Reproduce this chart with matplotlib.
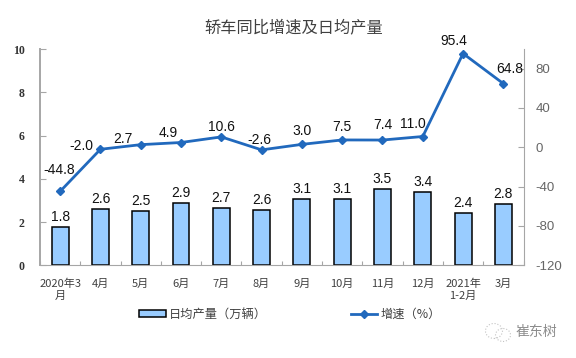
import numpy as np
import matplotlib
matplotlib.use('Agg')
import matplotlib.pyplot as plt
from matplotlib.patches import Ellipse

plt.rcParams['font.family'] = ['Noto Sans CJK SC', 'DejaVu Sans']

months = ['2020年3\n月', '4月', '5月', '6月', '7月', '8月', '9月', '10月', '11月', '12月',
          '2021年\n1-2月', '3月']
daily_output = [1.76, 2.59, 2.52, 2.86, 2.66, 2.56, 3.06, 3.08, 3.53, 3.41, 2.42, 2.82]
growth = [-44.8, -2.0, 2.7, 4.9, 10.6, -2.6, 3.0, 7.5, 7.4, 11.0, 95.4, 64.8]
left_ticks = [0, 2, 4, 6, 8, 10]
right_ticks = [-120, -80, -40, 0, 40, 80]

# label offsets in pixels, the source nudged these by hand
growth_offsets = [(-1, 21), (-19, 3), (-18, 6), (-13, 10), (0, 10), (-2, 10),
                  (0, 13), (0, 13), (0, 15), (-10, 13), (-9, 13), (6, 15)]

W, H = 576, 358
GREY = '#a6a6a6'
x = np.arange(len(months))

fig = plt.figure(figsize=(W / 100, H / 100), dpi=100)
ax = fig.add_axes([40 / W, 92.7 / H, 483.5 / W, 216.3 / H])
ax2 = ax.twinx()

bars = ax.bar(x, daily_output, width=0.42, color='#99ccff', edgecolor='black', linewidth=1.1,
              label='日均产量（万辆）')
line, = ax2.plot(x, growth, color='#2169bd', linewidth=2, marker='D', markersize=4,
                 label='增速（%）')

ax.set_xlim(-0.5, len(months) - 0.5)
ax.set_ylim(0, 10)
ax2.set_ylim(-120, 100)

for xi, v in zip(x, daily_output):
    ax.annotate(f'{v:.1f}', (xi, v), xytext=(0, 3), textcoords='offset pixels', ha='center',
                va='bottom', fontsize=10, family='Liberation Sans', color='#111111')
for xi, v, off in zip(x, growth, growth_offsets):
    ax2.annotate(f'{v:.1f}', (xi, v), xytext=off, textcoords='offset pixels', ha='center',
                 va='center', fontsize=10, family='Liberation Sans', color='#111111')

ax.set_xticks(x)
ax.set_xticklabels(months, fontsize=8, color='#404040', linespacing=1.3)
ax.set_xticks(np.arange(-0.5, len(months)), minor=True)
ax.tick_params(axis='x', which='major', length=0, pad=9.5)
ax.tick_params(axis='x', which='minor', direction='in', length=3, color=GREY, width=0.8)

ax.set_yticks(left_ticks)
ax.set_yticklabels(left_ticks, fontsize=8.5, family='Liberation Serif', fontweight='bold',
                   color='#333333')
ax.tick_params(axis='y', direction='in', length=4, color=GREY, width=0.8, pad=11)

ax2.set_yticks(right_ticks)
ax2.set_yticklabels(right_ticks, fontsize=9.5, family='Liberation Sans', color='#666666')
ax2.tick_params(axis='y', direction='in', length=4, color=GREY, width=0.8, pad=8.5)

for a in (ax, ax2):
    a.spines['top'].set_visible(False)
    a.spines['bottom'].set_color(GREY)
    a.spines['left'].set_color(GREY)
    a.spines['right'].set_color(GREY)
ax2.spines['left'].set_visible(False)
ax2.spines['bottom'].set_visible(False)
ax.spines['right'].set_visible(False)
ax.spines['left'].set_linewidth(1.4)

fig.text(293.5 / W, 1 - 27.5 / H, '轿车同比增速及日均产量', ha='center', va='center', fontsize=11.7,
         color='#404040')

fig.legend(handles=[bars, line], loc='center', bbox_to_anchor=(290 / W, 1 - 314 / H), ncol=2,
           frameon=False, fontsize=8.8, handlelength=2.15, handleheight=0.5, handletextpad=0.25,
           columnspacing=6.9, labelcolor='#404040')

# wechat watermark in the corner
fig.text(536.5 / W, 1 - 332 / H, '崔东树', ha='center', va='center', fontsize=10, color='#8c8c8c')
for cx, cy, w in [(494, 331, 17), (503, 335, 15)]:
    fig.add_artist(Ellipse((cx / W, 1 - cy / H), w / W, (w - 2) / H, transform=fig.transFigure,
                           fill=False, edgecolor='#c4c4c4', linewidth=0.8, linestyle=':'))

fig.savefig('out.png', dpi=100)
